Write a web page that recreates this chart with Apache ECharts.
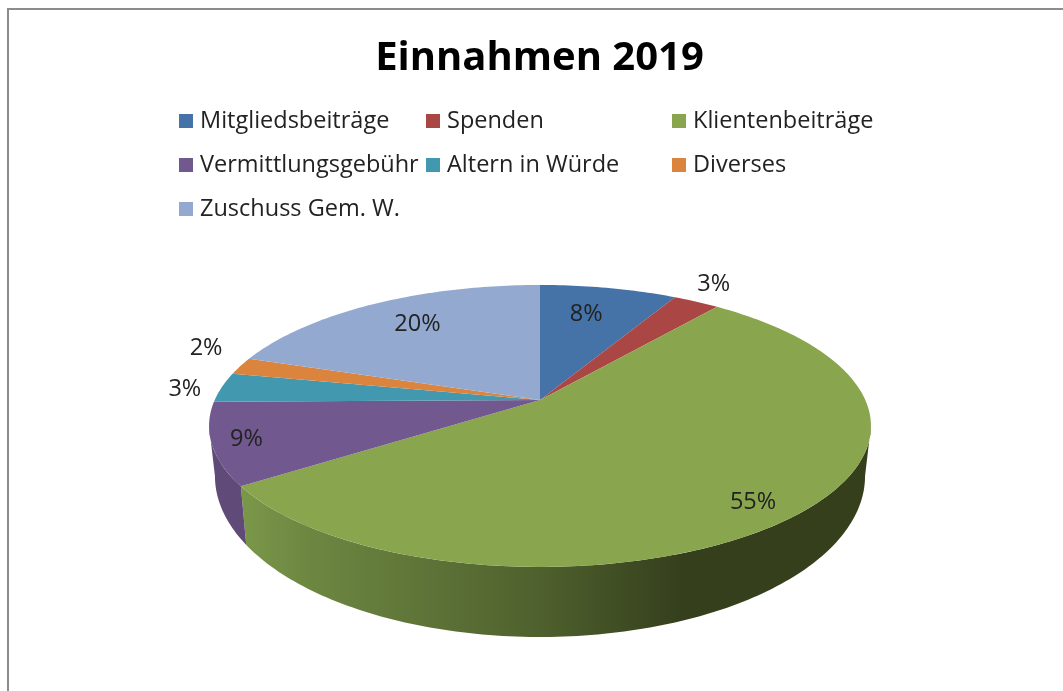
<!DOCTYPE html>
<html><head><meta charset="utf-8">
<style>html,body{margin:0;padding:0;background:#fff}#c{width:1063px;height:691px}</style>
<script src="https://cdn.jsdelivr.net/npm/echarts@6/dist/echarts.min.js"></script>
</head><body><div id="c"></div>
<script>
var chartTitle = 'Einnahmen 2019';
var categories = ['Mitgliedsbeiträge','Spenden','Klientenbeiträge','Vermittlungsgebühr','Altern in Würde','Diverses','Zuschuss Gem. W.'];
var shares = [8.0, 2.7, 54.7, 9.4, 3.4, 2.0, 19.8];
var colors = ['#4572a7','#aa4643','#89a54e','#71588f','#4198af','#db843d','#93a9cf'];
var legendColumns = [[0,3,6],[1,4],[2,5]];
var legendLeft = [179,426,672];
// label placement relative to slice: radial factor and angular turn (degrees)
var labelRadius = [0.75,1.21,0.867,0.898,1.115,1.187,0.766];
var labelTurn = [-2,-2,1.3,0.6,-0.5,6,2.3];

var FONT = '"Open Sans","Noto Sans",sans-serif';
var K = 0.184;
var TOP = {cx:540, cy:400, a:325.3, b:136.2};
var BOT = {cx:540, cy:446.4, a:319.5, b:155.5};
var SIL_R = 180-Math.acos(K)*180/Math.PI, SIL_L = 360-SIL_R; // silhouette angles of the disc
function project(d, deg, r){
  var t = deg*Math.PI/180, u = r*Math.sin(t), v = -r*Math.cos(t), w = 1-K*v;
  return [d.cx + d.a*u/w, d.cy + d.b*v/w];
}
function arc(d, from, to){
  var pts=[], n=Math.max(2,Math.ceil(Math.abs(to-from)));
  for(var i=0;i<=n;i++) pts.push(project(d, from+(to-from)*i/n, 1));
  return pts;
}
var greenWall = {type:'linear',x:240,y:0,x2:871,y2:0,global:true,colorStops:[
  {offset:0,color:'#7b9849'},{offset:0.1,color:'#6e8842'},{offset:0.48,color:'#4e602d'},
  {offset:0.7,color:'#353f1c'},{offset:1,color:'#353f1c'}]};
var wallFill = {2:greenWall, 3:'#5f4a78'};

function makeRender(idx){
  return function(params, api){
    var before = 0; for(var i=0;i<idx;i++) before += shares[i];
    var val = api.value(0);
    var from = before*3.6, to = (before+val)*3.6, mid=(from+to)/2;
    var top = [[TOP.cx,TOP.cy]].concat(arc(TOP,from,to));
    var wf = Math.max(from,SIL_R), wt = Math.min(to,SIL_L);
    var wall = arc(TOP,wf,wt).concat(arc(BOT,wt,wf));
    var lp = project(TOP, mid+labelTurn[idx], labelRadius[idx]);
    var kids = [];
    if(wallFill[idx]) kids.push({type:'polygon',z2:1,silent:true,shape:{points:wall},style:{fill:wallFill[idx]}});
    kids.push({type:'polygon',z2:5,shape:{points:top},style:{fill:colors[idx]}});
    kids.push({type:'text',z2:10,silent:true,x:lp[0],y:lp[1]+2,style:{text:Math.round(val)+'%',align:'center',verticalAlign:'middle',fill:'#222',font:'23.5px '+FONT}});
    return {type:'group',children:kids};
  };
}
var series = categories.map(function(name,i){
  return {type:'custom',name:name,coordinateSystem:'none',renderItem:makeRender(i),data:[[shares[i]]],itemStyle:{color:colors[i]},animation:false};
});
var legends = legendColumns.map(function(col,i){
  return {show:true,orient:'vertical',left:legendLeft[i],top:109,padding:0,itemWidth:14,itemHeight:14,itemGap:20,icon:'rect',selectedMode:false,
    data:col.map(function(k){return categories[k];}),
    textStyle:{fontFamily:FONT,fontSize:23.5,color:'#222',padding:[0,0,0,2],lineHeight:24}};
});
var chart = echarts.init(document.getElementById('c'),null,{renderer:'canvas'});
chart.setOption({
  animation:false,backgroundColor:'#fff',color:colors,
  title:{text:chartTitle,left:539.5,top:39,padding:0,textAlign:'center',textStyle:{fontFamily:FONT,fontSize:40,fontWeight:'bold',color:'#000'}},
  legend:legends,
  graphic:[{type:'polyline',silent:true,shape:{points:[[8,691],[8,9],[1063,9]]},style:{stroke:'#8c8c8c',lineWidth:2,fill:null}}],
  series:series
});
</script></body></html>
